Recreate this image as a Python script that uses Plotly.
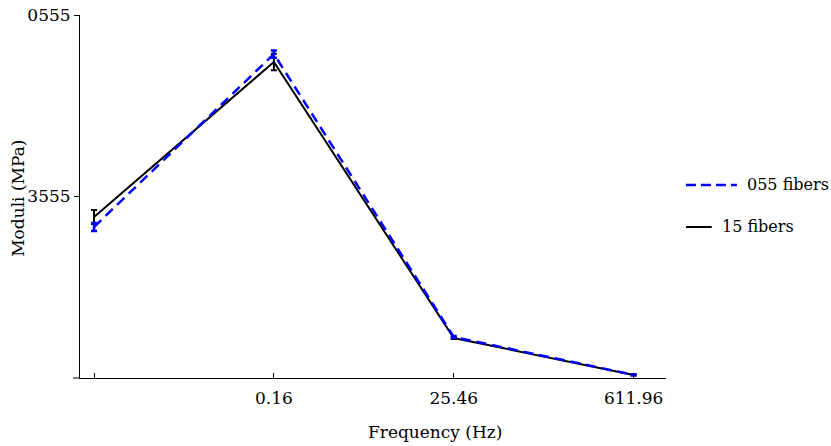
import plotly.graph_objects as go

# Frequency positions (first position has no label) and their tick labels
freq_pos = [0, 1, 2, 3]
freq_labels = ["", "0.16", "25.46", "611.96"]

# Moduli for each fiber count, with standard deviation
moduli_055 = [1664, 3570, 452, 35]
err_055 = [44, 40, 12, 6]
moduli_15 = [1774, 3482, 441, 33]
err_15 = [77, 90, 12, 6]

y_tickvals = [2000, 4000]
y_ticktext = ["3555", "0555"]

series_names = ["055 fibers", "15 fibers"]
x_title = "Frequency (Hz)"
y_title = "Moduli (MPa)"

FONT = "DejaVu Serif"
BLUE = "#0000ff"
BLACK = "#000000"
FS = 17
LEGEND_FS = 16

fig = go.Figure()

fig.add_trace(go.Scatter(
    x=freq_pos, y=moduli_15, mode="lines", name=series_names[1],
    line=dict(color=BLACK, width=2),
    error_y=dict(type="data", array=err_15, color=BLACK, thickness=2, width=3),
    showlegend=False,
))
fig.add_trace(go.Scatter(
    x=freq_pos, y=moduli_055, mode="lines", name=series_names[0],
    line=dict(color=BLUE, width=2.5, dash="10px,6px"),
    error_y=dict(type="data", array=err_055, color=BLUE, thickness=2.5, width=3),
    showlegend=False,
))

# Legend drawn beside the plot area: (name, colour, dashed, line end, text start, y)
legend_x0 = 1.034
legend_items = [
    (series_names[0], BLUE, True, 1.121, 1.135, 0.532),
    (series_names[1], BLACK, False, 1.078, 1.093, 0.416),
]
shapes = []
annotations = []
for name, color, dashed, x_end, x_text, ypos in legend_items:
    shapes.append(dict(
        type="line", xref="paper", yref="paper",
        x0=legend_x0, x1=x_end, y0=ypos, y1=ypos,
        line=dict(color=color, width=2.5 if dashed else 2,
                  dash="10px,5px" if dashed else "solid"),
    ))
    annotations.append(dict(
        xref="paper", yref="paper", x=x_text, y=ypos,
        text=name, showarrow=False, xanchor="left", yanchor="middle",
        font=dict(family=FONT, size=LEGEND_FS, color="#000000"),
    ))

# Axis titles
annotations.append(dict(
    xref="paper", yref="paper", x=0.606, y=-0.149, text=x_title,
    showarrow=False, xanchor="center", yanchor="middle",
    font=dict(family=FONT, size=FS, color="#000000"),
))
annotations.append(dict(
    xref="paper", yref="paper", x=-0.106, y=0.496, text=y_title,
    textangle=-90, showarrow=False, xanchor="center", yanchor="middle",
    font=dict(family=FONT, size=FS, color="#000000"),
))

# short extension of the x axis line to the left of the y axis
shapes.append(dict(
    type="line", xref="paper", yref="paper",
    x0=-0.012, x1=0, y0=0, y1=0, line=dict(color=BLACK, width=1),
))

fig.update_layout(
    width=831, height=446,
    margin=dict(l=80, r=165, t=15, b=68, autoexpand=False),
    paper_bgcolor="white", plot_bgcolor="white",
    font=dict(family=FONT, size=FS, color="#000000"),
    shapes=shapes, annotations=annotations,
    xaxis=dict(
        range=[-0.078, 3.18], tickvals=freq_pos, ticktext=freq_labels,
        ticks="inside", ticklen=5, tickcolor=BLACK, showline=True,
        linecolor=BLACK, linewidth=1, showgrid=False, zeroline=False,
        automargin=False, ticklabelstandoff=5,
        tickfont=dict(family=FONT, size=FS),
    ),
    yaxis=dict(
        range=[0, 4000], tickvals=y_tickvals, ticktext=y_ticktext,
        ticks="outside", ticklen=5, tickcolor=BLACK, showline=True,
        linecolor=BLACK, linewidth=1, showgrid=False, zeroline=False,
        automargin=False,
        tickfont=dict(family=FONT, size=FS),
    ),
)

fig.write_html("out.html")
